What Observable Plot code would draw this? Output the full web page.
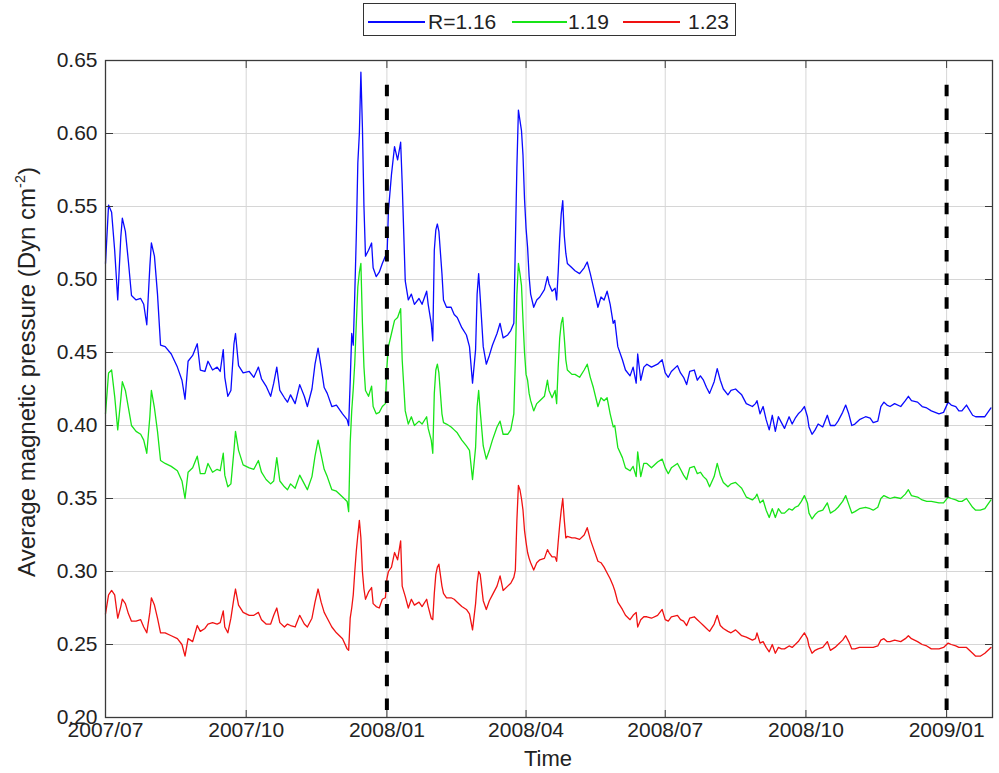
<!DOCTYPE html>
<html>
<head>
<meta charset="utf-8">
<script src="https://cdn.jsdelivr.net/npm/d3@7"></script>
<script src="https://cdn.jsdelivr.net/npm/@observablehq/plot@0.6"></script>
<style>
html, body { margin: 0; padding: 0; background: #fff; }
#wrap { position: relative; width: 999px; height: 773px; overflow: hidden;
  font-family: "Liberation Sans", Arial, Helvetica, sans-serif; color: #222; }
#chart { position: absolute; left: 0; top: 0; }
.lg-box { position: absolute; left: 363px; top: 3px; width: 371px; height: 31px; border: 1.5px solid #333; background: #fff; }
.lg-line { position: absolute; top: 21px; height: 2px; }
.lg-text { position: absolute; top: 10.5px; font-size: 21px; line-height: 21px; white-space: nowrap; }
.ylab { position: absolute; left: -223px; top: 360px; width: 500px; height: 24px; line-height: 24px;
  font-size: 24px; text-align: center; transform: rotate(-90deg); white-space: nowrap; }
.xlab { position: absolute; left: 448px; top: 748px; width: 200px; line-height: 22px; font-size: 22px; text-align: center; }
</style>
</head>
<body>
<div id="wrap"></div>
<script>
// ---- data ----
const startDay = "2007-07-01";            // day 0 of the offsets below
const seriesNames = ["R=1.16", "1.19", "1.23"];
const legendLabels = ["R=1.16", "1.19", "1.23"];
const seriesColors = ["#0a0aff", "#18e418", "#f01212"];

const days = [
  0,2,4,6,8,10,11,13,15,17,20,23,25,27,29,30,32,34,36,39,43,47,50,52,54,57,60,
  62,65,67,70,73,75,77,78,80,82,84,85,87,90,94,97,100,102,105,108,110,112,114,117,119,121,124,127,130,132,135,137,139,141,143,145,148,151,155,158,159,
  160,161,162,163,164,165,166,167,168,169,170,172,174,175,177,179,181,183,184,185,187,189,191,193,194,196,198,200,
  202,205,207,210,211,213,214,215,216,217,218,220,221,223,226,228,230,233,236,238,240,242,243,244,245,247,249,251,253,256,258,260,263,265,267,268,269,270,271,272,273,274,275,
  276,277,278,280,282,284,287,289,290,292,294,295,296,297,298,299,300,301,302,305,307,310,313,315,317,319,322,324,326,328,330,332,333,335,338,340,343,345,347,348,350,352,354,357,361,364,366,368,370,374,
  376,378,380,382,385,387,389,391,393,395,398,400,402,404,407,409,412,414,416,419,423,425,426,428,430,432,434,436,438,440,442,444,447,449,451,453,455,457,459,460,462,464,466,469,472,474,477,479,482,484,486,488,490,493,497,500,502,505,507,509,511,513,516,520,523,525,527,531,534,537,540,545,548,551,553,556,558,560,563,567,569,572,575,579
];

const r116 = [
  0.511,0.551,0.546,0.520,0.486,0.529,0.542,0.533,0.512,0.489,0.486,0.487,0.483,0.469,0.509,0.525,0.516,0.490,0.455,0.454,0.449,0.440,0.431,0.418,0.444,0.448,0.456,
  0.438,0.437,0.444,0.438,0.440,0.437,0.452,0.433,0.420,0.424,0.456,0.463,0.441,0.436,0.437,0.433,0.440,0.432,0.427,0.420,0.429,0.440,0.424,0.419,0.416,0.421,0.415,0.428,0.420,0.413,0.425,0.442,0.453,0.440,0.426,0.422,0.413,0.414,0.408,0.404,0.400,
  0.430,0.463,0.455,0.490,0.530,0.580,0.600,0.642,0.604,0.550,0.516,0.520,0.525,0.508,0.502,0.505,0.511,0.516,0.513,0.547,0.572,0.591,0.582,0.594,0.566,0.499,0.486,0.490,
  0.483,0.487,0.483,0.492,0.483,0.470,0.458,0.520,0.534,0.538,0.533,0.504,0.486,0.481,0.481,0.476,0.474,0.467,0.462,0.454,0.429,0.452,0.490,0.504,0.488,0.454,0.442,0.448,0.455,0.463,0.470,0.460,0.462,0.465,0.470,0.524,0.577,0.616,0.609,0.602,0.585,0.555,0.535,
  0.522,0.502,0.490,0.481,0.486,0.488,0.493,0.502,0.497,0.492,0.494,0.486,0.505,0.528,0.545,0.554,0.530,0.518,0.511,0.508,0.506,0.504,0.508,0.512,0.504,0.495,0.481,0.488,0.486,0.492,0.483,0.470,0.472,0.454,0.445,0.438,0.434,0.440,0.429,0.449,0.431,0.440,0.442,0.440,0.442,0.445,0.436,0.433,0.437,0.441,
  0.436,0.433,0.428,0.437,0.438,0.431,0.434,0.431,0.426,0.422,
  0.430,0.439,0.431,0.425,0.421,0.424,0.425,0.423,0.421,0.415,
  0.413,0.415,0.417,0.408,0.413,0.404,0.397,0.407,0.396,0.406,
  0.402,0.398,0.406,0.401,0.405,0.408,0.410,0.413,0.406,0.399,
  0.394,0.397,0.401,0.399,0.407,0.400,0.400,0.403,0.409,0.414,
  0.408,0.400,0.401,0.404,0.406,0.405,0.402,0.403,0.413,0.416,
  0.414,0.413,0.415,0.413,0.417,0.420,0.417,0.416,0.413,0.412,
  0.410,0.408,0.409,0.416,0.414,0.413,0.410,0.410,0.414,0.407,
  0.406,0.406,0.406,0.412
];

const r119 = [
  0.408,0.436,0.438,0.420,0.397,0.418,0.430,0.424,0.412,0.400,0.396,0.394,0.390,0.381,0.406,0.424,0.412,0.396,0.376,0.374,0.372,0.369,0.362,0.350,0.368,0.371,0.379,
  0.367,0.367,0.374,0.368,0.370,0.369,0.381,0.366,0.358,0.360,0.383,0.396,0.383,0.373,0.371,0.370,0.376,0.368,0.363,0.360,0.362,0.378,0.362,0.358,0.356,0.360,0.357,0.366,0.360,0.356,0.365,0.379,0.390,0.380,0.370,0.365,0.356,0.355,0.351,0.348,0.341,
  0.388,0.410,0.425,0.443,0.470,0.495,0.505,0.511,0.470,0.440,0.424,0.420,0.427,0.413,0.408,0.409,0.413,0.415,0.440,0.454,0.463,0.472,0.474,0.480,0.445,0.410,0.401,0.406,
  0.400,0.403,0.401,0.406,0.398,0.390,0.381,0.422,0.438,0.442,0.436,0.408,0.402,0.401,0.399,0.397,0.395,0.390,0.386,0.383,0.363,0.385,0.413,0.424,0.410,0.386,0.377,0.383,0.390,0.399,0.403,0.394,0.394,0.397,0.408,0.445,0.490,0.511,0.504,0.496,0.472,0.450,0.435,
  0.431,0.422,0.417,0.410,0.415,0.417,0.420,0.431,0.424,0.419,0.424,0.415,0.440,0.460,0.470,0.474,0.460,0.445,0.438,0.435,0.435,0.433,0.438,0.442,0.433,0.426,0.413,0.419,0.417,0.419,0.408,0.399,0.400,0.385,0.378,0.371,0.369,0.372,0.365,0.382,0.365,0.374,0.374,0.371,0.375,0.377,0.371,0.367,0.371,0.374,
  0.370,0.366,0.363,0.371,0.372,0.367,0.368,0.365,0.363,0.358,
  0.365,0.374,0.366,0.361,0.358,0.360,0.361,0.359,0.357,0.351,
  0.349,0.351,0.353,0.347,0.349,0.342,0.337,0.343,0.337,0.343,
  0.340,0.340,0.343,0.342,0.344,0.345,0.348,0.352,0.347,0.340,
  0.336,0.339,0.341,0.342,0.347,0.340,0.342,0.344,0.348,0.352,
  0.346,0.340,0.341,0.343,0.344,0.343,0.342,0.344,0.350,0.352,
  0.351,0.350,0.351,0.350,0.353,0.356,0.352,0.351,0.349,0.348,
  0.348,0.347,0.347,0.351,0.350,0.349,0.348,0.348,0.350,0.344,
  0.342,0.342,0.343,0.349
];

const r123 = [
  0.271,0.284,0.287,0.284,0.268,0.276,0.281,0.278,0.271,0.266,0.266,0.267,0.262,0.258,0.272,0.282,0.277,0.268,0.258,0.258,0.256,0.254,0.250,0.242,0.254,0.252,0.263,
  0.259,0.261,0.264,0.265,0.264,0.265,0.273,0.262,0.258,0.268,0.282,0.288,0.277,0.272,0.270,0.270,0.272,0.267,0.264,0.264,0.270,0.275,0.265,0.262,0.264,0.263,0.262,0.270,0.264,0.262,0.268,0.279,0.288,0.279,0.272,0.268,0.262,0.258,0.254,0.247,0.246,
  0.268,0.275,0.284,0.300,0.314,0.325,0.335,0.323,0.300,0.288,0.281,0.286,0.289,0.278,0.276,0.275,0.281,0.282,0.295,0.300,0.303,0.313,0.308,0.321,0.290,0.283,0.275,0.281,
  0.277,0.279,0.276,0.281,0.276,0.268,0.267,0.285,0.298,0.303,0.305,0.290,0.285,0.282,0.282,0.281,0.279,0.276,0.274,0.271,0.260,0.278,0.292,0.300,0.298,0.280,0.274,0.280,0.284,0.290,0.297,0.287,0.290,0.292,0.296,0.301,0.335,0.359,0.356,0.350,0.342,0.328,0.320,
  0.313,0.309,0.306,0.301,0.306,0.308,0.309,0.315,0.313,0.310,0.310,0.307,0.320,0.332,0.342,0.350,0.335,0.323,0.324,0.323,0.323,0.322,0.325,0.330,0.322,0.316,0.307,0.306,0.303,0.299,0.295,0.290,0.287,0.279,0.274,0.270,0.267,0.270,0.272,0.262,0.267,0.269,0.269,0.268,0.270,0.274,0.267,0.266,0.269,0.270,
  0.267,0.266,0.263,0.268,0.269,0.267,0.265,0.263,0.261,0.259,
  0.264,0.270,0.263,0.261,0.259,0.258,0.260,0.258,0.256,0.255,
  0.253,0.254,0.258,0.251,0.252,0.248,0.245,0.250,0.244,0.248,
  0.247,0.247,0.249,0.248,0.250,0.252,0.255,0.258,0.254,0.249,
  0.244,0.246,0.247,0.248,0.252,0.246,0.248,0.250,0.253,0.256,
  0.252,0.247,0.247,0.248,0.248,0.248,0.248,0.249,0.253,0.254,
  0.252,0.252,0.253,0.252,0.254,0.256,0.254,0.252,0.250,0.249,
  0.247,0.247,0.248,0.251,0.250,0.249,0.248,0.248,0.248,0.244,
  0.242,0.242,0.244,0.248
];

const xTicks = ["2007-07-01", "2007-10-01", "2008-01-01", "2008-04-01", "2008-07-01", "2008-10-01", "2009-01-01"];
const yTicks = [0.20, 0.25, 0.30, 0.35, 0.40, 0.45, 0.50, 0.55, 0.60, 0.65];
const xDomain = ["2007-07-01", "2009-01-31"];
const yDomain = [0.20, 0.65];
const markerDates = ["2008-01-01", "2009-01-01"];   // thick dashed verticals
const markerTop = 0.633;
const xTitle = "Time";

// ---- build table ----
const parse = s => new Date(s + "T00:00:00Z");
const t0 = parse(startDay).getTime();
const values = [r116, r119, r123];
const rows = [];
values.forEach((arr, k) => arr.forEach((v, i) => rows.push({date: new Date(t0 + days[i] * 864e5), value: v, series: seriesNames[k]})));

const wrap = document.getElementById("wrap");
values.forEach((arr, k) => { if (arr.length !== days.length) { const w = document.createElement("div"); w.textContent = "len mismatch " + k + ": " + arr.length + " vs " + days.length; w.style.cssText = "position:absolute;left:120px;top:600px;color:#f0f;z-index:9"; wrap.appendChild(w); } });

const gridStyle = {stroke: "#d6d6d6", strokeOpacity: 1, strokeWidth: 1};
const blank = () => "";

const chart = Plot.plot({
  width: 999, height: 773,
  marginLeft: 105, marginRight: 7, marginTop: 60, marginBottom: 56,
  style: {fontFamily: '"Liberation Sans", Arial, Helvetica, sans-serif', fontSize: "21px", color: "#222", background: "transparent", overflow: "visible"},
  x: {type: "utc", domain: xDomain.map(parse), label: null},
  y: {domain: yDomain, label: null},
  color: {domain: seriesNames, range: seriesColors},
  marks: [
    Plot.gridX(xTicks.map(parse), gridStyle),
    Plot.gridY(yTicks, gridStyle),
    Plot.lineY(rows, {x: "date", y: "value", stroke: "series", z: "series", strokeWidth: 1.3}),
    Plot.ruleX(markerDates.map(parse), {y1: markerTop, y2: yDomain[0], stroke: "#000", strokeWidth: 4, strokeDasharray: "11.5,12.1"}),
    Plot.frame({stroke: "#3a3a3a", strokeWidth: 1.3}),
    Plot.axisX(xTicks.map(parse), {anchor: "bottom", tickSize: 0, tickPadding: 4.5, tickFormat: d3.utcFormat("%Y/%m"), label: null, fill: "#222"}),
    Plot.axisX(xTicks.map(parse), {anchor: "bottom", tickSize: -7, tickFormat: blank, label: null, stroke: "#3a3a3a"}),
    Plot.axisX(xTicks.map(parse), {anchor: "top", tickSize: -7, tickFormat: blank, label: null, stroke: "#3a3a3a"}),
    Plot.axisY(yTicks, {anchor: "left", tickSize: 0, tickPadding: 8, tickFormat: d3.format(".2f"), label: null, fill: "#222"}),
    Plot.axisY(yTicks, {anchor: "left", tickSize: -8, tickFormat: blank, label: null, stroke: "#3a3a3a"}),
    Plot.axisY(yTicks, {anchor: "right", tickSize: -8, tickFormat: blank, label: null, stroke: "#3a3a3a"})
  ]
});
chart.id = "chart";
wrap.appendChild(chart);

// ---- axis titles ----
const yl = document.createElement("div");
yl.className = "ylab";
yl.innerHTML = 'Average magnetic pressure (Dyn cm<sup style="font-size:0.6em;vertical-align:0.7em;line-height:0">-2</sup>)';
yl.style.left = (27 - 250) + "px";
wrap.appendChild(yl);

const xl = document.createElement("div");
xl.className = "xlab";
xl.textContent = xTitle;
wrap.appendChild(xl);

// ---- legend ----
const box = document.createElement("div");
box.className = "lg-box";
wrap.appendChild(box);
const lgLayout = [[368, 57, 428], [512, 55, 568], [623, 57, 688]];
legendLabels.forEach((lab, k) => {
  const ln = document.createElement("div");
  ln.className = "lg-line";
  ln.style.left = lgLayout[k][0] + "px";
  ln.style.width = lgLayout[k][1] + "px";
  ln.style.backgroundColor = seriesColors[k];
  wrap.appendChild(ln);
  const tx = document.createElement("div");
  tx.className = "lg-text";
  tx.style.left = lgLayout[k][2] + "px";
  tx.textContent = lab;
  wrap.appendChild(tx);
});
</script>
</body>
</html>
